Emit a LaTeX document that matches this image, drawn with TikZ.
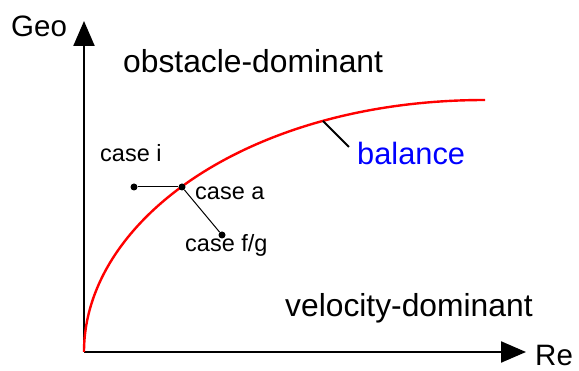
\documentclass[tikz,border=0pt]{standalone}
\usepackage{fontspec}
\setmainfont{Liberation Sans}
\usetikzlibrary{arrows.meta}
\tikzset{
    axis/.style={line width=2.2pt, -{Triangle[length=25pt,width=21pt]}},
    big/.style={font=\fontsize{29.5}{36}\selectfont, inner sep=0pt, anchor=base west},
    region/.style={font=\fontsize{31.8}{38}\selectfont, inner sep=0pt, anchor=base west},
    small/.style={font=\fontsize{23.5}{28}\selectfont, inner sep=0pt, anchor=base west},
    dot/.style={circle, fill=black, inner sep=0pt, minimum size=7pt},
}
\begin{document}
\begin{tikzpicture}[x=1pt, y=-1pt]
    \useasboundingbox (0,0) rectangle (579,371);
    % 坐标轴
    \coordinate (o) at (84,352);
    \coordinate (ytip) at (84,21);
    \coordinate (xtip) at (526,352);
    \draw[axis] (o) -- (ytip);
    \draw[axis] (o) -- (xtip);
    \node[big] (geo) at (11,37) {Geo};
    \node[big] (re) at (535,366) {Re};

    % 平衡曲线
    \coordinate (cend) at (485,100);
    \draw[red, line width=2.4pt] (o) .. controls (84,220) and (250,100) .. (cend);
    \coordinate (bal) at (323,121);
    \coordinate (baltail) at (349,147);
    \draw[line width=2pt] (bal) -- (baltail);
    \node[big, font=\fontsize{30.8}{36}\selectfont, text=blue] (balance) at (357,165) {balance};

    % 区域
    \node[region] (obst) at (123,73) {obstacle-dominant};
    \node[region] (velo) at (285,317) {velocity-dominant};

    % 算例
    \node[dot] (casei) at (134,187) {};
    \node[dot] (casea) at (182,187) {};
    \node[dot] (casefg) at (222,235) {};
    \draw[line width=1pt] (casei) -- (casea);
    \draw[line width=1pt] (casea) -- (casefg);
    \node[small] (lcasei) at (100,162) {case i};
    \node[small] (lcasea) at (195,200) {case a};
    \node[small] (lcasefg) at (185,252) {case f/g};
\end{tikzpicture}
\end{document}
